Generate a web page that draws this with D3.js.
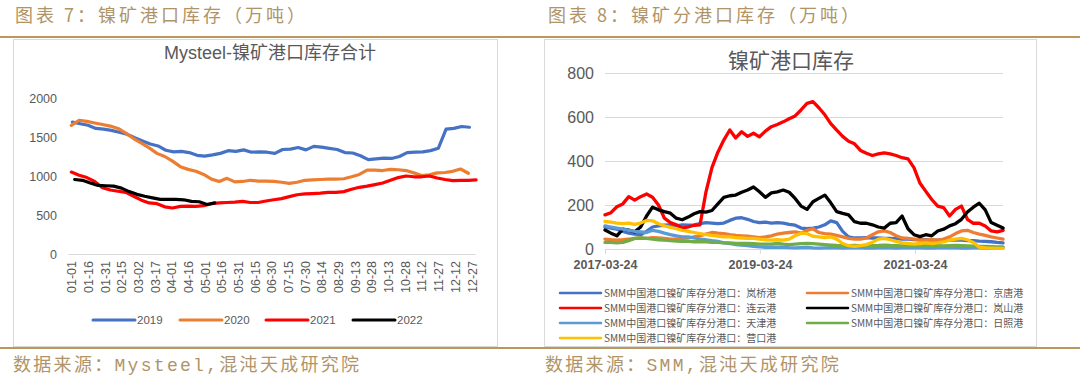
<!DOCTYPE html>
<html><head><meta charset="utf-8">
<script src="https://cdn.jsdelivr.net/npm/d3@7"></script>
<style>body{margin:0;background:#fff;} svg{display:block;}</style>
</head><body>
<svg id="c" width="1080" height="381"></svg>
<script>
// ---------- LEFT CHART DATA (weekly, Mysteel total) ----------
const leftTickLabels = ["01-01","01-16","01-31","02-15","03-02","03-17","04-01","04-16","05-01","05-16","05-31","06-15","06-30","07-15","07-30","08-14","08-29","09-13","09-28","10-13","10-28","11-12","11-27","12-12","12-27"];
const leftYears = ["2019","2020","2021","2022"];
const leftFirstDay = [1, 0, 0, 3];
const total2019 = [1690,1670,1650,1610,1600,1585,1560,1535,1490,1450,1410,1385,1330,1310,1315,1300,1265,1255,1270,1290,1325,1315,1335,1305,1310,1305,1290,1340,1345,1365,1335,1380,1370,1355,1340,1300,1295,1260,1210,1220,1230,1225,1250,1300,1305,1310,1325,1355,1600,1610,1635,1625];
const total2020 = [1650,1715,1700,1680,1660,1640,1610,1550,1480,1420,1360,1290,1250,1190,1120,1085,1060,1020,960,930,970,925,930,945,935,935,930,920,905,920,945,950,955,960,960,965,990,1020,1075,1075,1070,1085,1080,1070,1040,1005,1015,1040,1045,1060,1090,1035];
const total2021 = [1050,1010,980,930,850,820,805,790,740,690,655,645,605,590,610,615,610,620,645,655,660,665,675,660,660,680,695,710,735,760,770,775,780,790,790,800,830,855,870,890,910,945,980,1000,990,990,1000,975,955,940,945,945,950];
const total2022 = [955,945,910,880,875,870,845,800,765,740,720,700,700,700,695,675,670,635,655];
const leftYTicks = [0,500,1000,1500,2000];

// ---------- RIGHT CHART DATA (every 4 weeks, SMM by port) ----------
const rightDates = ["2017-03-24","2017-04-21","2017-05-19","2017-06-16","2017-07-14","2017-08-11","2017-09-08","2017-10-06","2017-11-03","2017-12-01","2017-12-29",
"2018-01-26","2018-02-23","2018-03-23","2018-04-20","2018-05-18","2018-06-15","2018-07-13","2018-08-10","2018-09-07","2018-10-05","2018-11-02","2018-11-30","2018-12-28",
"2019-01-25","2019-02-22","2019-03-22","2019-04-19","2019-05-17","2019-06-14","2019-07-12","2019-08-09","2019-09-06","2019-10-04","2019-11-01","2019-11-29","2019-12-27",
"2020-01-24","2020-02-21","2020-03-20","2020-04-17","2020-05-15","2020-06-12","2020-07-10","2020-08-07","2020-09-04","2020-10-02","2020-10-30","2020-11-27","2020-12-25",
"2021-01-22","2021-02-19","2021-03-19","2021-04-16","2021-05-14","2021-06-11","2021-07-09","2021-08-06","2021-09-03","2021-10-01","2021-10-29","2021-11-26","2021-12-24",
"2022-01-21","2022-02-18","2022-03-18","2022-04-15","2022-05-13"];
const rightXTicks = ["2017-03-24","2019-03-24","2021-03-24"];
const rightYTicks = [0,200,400,600,800];
const lanqiao = [100,95,90,80,72,68,65,80,100,105,108,110,105,110,108,110,115,120,118,115,118,130,140,142,135,125,120,122,118,120,118,112,108,95,92,95,100,110,128,120,80,55,50,50,52,50,50,48,48,47,45,45,43,42,42,40,40,42,40,42,40,38,38,36,35,33,30,28];
const jingtang = [45,42,40,42,45,48,50,48,52,50,48,45,45,48,50,55,60,68,75,72,70,65,62,60,58,55,52,55,60,68,72,75,78,72,85,92,75,70,68,62,55,48,45,45,50,65,78,82,75,60,50,48,45,42,40,42,40,45,55,70,82,85,75,68,62,55,50,45];
const lianyun = [155,165,192,205,238,222,238,250,235,200,140,120,110,95,100,108,110,260,370,440,495,541,505,533,512,526,510,536,556,566,578,592,605,632,662,670,642,610,570,540,512,490,478,448,435,425,432,437,432,425,415,410,370,300,262,225,195,188,150,180,195,135,117,117,105,82,78,85];
const lanshan = [86,72,60,90,86,78,100,150,190,178,170,163,140,133,145,160,170,168,175,205,235,242,245,258,268,282,260,235,255,260,268,258,230,195,180,215,230,245,210,170,162,155,124,117,117,110,100,95,117,120,150,92,65,56,65,60,82,90,105,115,135,168,190,208,178,120,108,95];
const tianjin = [105,100,95,90,85,80,78,75,85,80,72,65,60,55,55,50,45,42,38,35,28,25,20,18,15,12,10,8,8,7,8,6,5,6,7,5,4,5,6,5,4,5,6,5,4,4,5,6,5,4,5,5,6,5,4,4,5,5,6,5,4,4,5,5,4,4,5,5];
const rizhao = [30,30,28,30,38,48,50,48,45,42,40,38,36,35,35,33,33,32,30,30,28,28,26,25,25,24,22,22,22,25,22,20,22,24,25,24,22,20,18,16,15,15,16,15,14,15,16,18,16,15,14,14,15,16,18,16,15,14,15,16,15,14,13,12,12,11,10,10];
const yingkou = [125,122,118,115,118,112,118,130,128,115,105,98,92,85,80,75,70,65,62,58,55,55,52,50,48,48,45,42,40,42,40,45,60,72,70,58,55,52,55,45,25,15,12,15,20,30,45,48,42,35,28,25,22,25,28,25,28,32,40,45,48,42,30,8,5,4,3,3];
const portNames = ["岚桥港","京唐港","连云港","岚山港","天津港","日照港","营口港"];
const portColors = ["#4472C4","#ED7D31","#FF0000","#000000","#5B9BD5","#70AD47","#FFC000"];

// ---------- DRAW ----------
const svg = d3.select("#c");
const tan = "#b09468", gold = "#b8985e", gray = "#595959", grid = "#d9d9d9";
const cjk = "'Noto Sans CJK SC', sans-serif";
const lat = "'Liberation Sans', 'Noto Sans CJK SC', sans-serif";

svg.append("rect").attr("width",1080).attr("height",381).attr("fill","#fff");

// headers
svg.append("text").attr("x",15).attr("y",21.5).attr("fill",tan).attr("font-family",cjk)
  .attr("font-size",18).attr("letter-spacing",3).text("图表 7：镍矿港口库存（万吨）");
svg.append("text").attr("x",548).attr("y",21.5).attr("fill",tan).attr("font-family",cjk)
  .attr("font-size",18).attr("letter-spacing",3).text("图表 8：镍矿分港口库存（万吨）");
[37, 348].forEach(y => svg.append("line").attr("x1",0).attr("x2",1080).attr("y1",y).attr("y2",y)
  .attr("stroke",gold).attr("stroke-width",2));
const srcFont = "'Liberation Mono', 'Noto Sans CJK SC', monospace";
svg.append("text").attr("x",13).attr("y",371).attr("fill",tan).attr("font-family",srcFont)
  .attr("font-size",18).attr("letter-spacing",2.3).text("数据来源：Mysteel,混沌天成研究院");
svg.append("text").attr("x",545).attr("y",371).attr("fill",tan).attr("font-family",srcFont)
  .attr("font-size",18).attr("letter-spacing",2.3).text("数据来源：SMM,混沌天成研究院");

// panels
svg.append("rect").attr("x",13.5).attr("y",39.5).attr("width",484).attr("height",307)
  .attr("fill","#fff").attr("stroke",grid);
svg.append("rect").attr("x",544.5).attr("y",39.5).attr("width",492).attr("height",307)
  .attr("fill","#fff").attr("stroke",grid);

// ===== LEFT CHART =====
const L = svg.append("g");
L.append("text").attr("x",270).attr("y",59).attr("text-anchor","middle").attr("fill",gray)
  .attr("font-family",lat).attr("font-size",18).text("Mysteel-镍矿港口库存合计");
const xL = d3.scaleLinear().domain([-3,363]).range([68,475]);
const yL = d3.scaleLinear().domain([0,2000]).range([254,98]);
const yAxL = L.append("g").attr("transform","translate(57,0)")
  .call(d3.axisLeft(yL).tickValues(leftYTicks).tickFormat(d3.format("d")).tickSize(0).tickPadding(0));
yAxL.select(".domain").remove();
yAxL.selectAll("text").attr("fill",gray).attr("font-family",lat).attr("font-size",12.5);
const xAxL = L.append("g").attr("transform","translate(0,254)")
  .call(d3.axisBottom(xL).tickValues(d3.range(0,361,15)).tickFormat((d,i)=>leftTickLabels[i]).tickSize(0));
xAxL.select(".domain").attr("stroke",grid);
xAxL.selectAll("text").attr("transform","rotate(-90)").attr("x",-7).attr("y",0).attr("dy","0.35em")
  .attr("text-anchor","end").attr("fill",gray).attr("font-family",lat).attr("font-size",12.5);

const leftSeries = [total2019,total2020,total2021,total2022];
const leftColors = ["#4472C4","#ED7D31","#FF0000","#000000"];
leftSeries.forEach((s,k) => {
  const line = d3.line().x((d,i)=>xL(leftFirstDay[k]+7*i)).y(d=>yL(d));
  L.append("path").datum(s).attr("d",line).attr("fill","none").attr("stroke",leftColors[k])
    .attr("stroke-width",3.2).attr("stroke-linejoin","round").attr("stroke-linecap","round");
});
const legL = [93,180,266,353];
leftYears.forEach((yr,k) => {
  L.append("line").attr("x1",legL[k]).attr("x2",legL[k]+42).attr("y1",320).attr("y2",320)
    .attr("stroke",leftColors[k]).attr("stroke-width",3).attr("stroke-linecap","round");
  L.append("text").attr("x",legL[k]+44).attr("y",324).attr("fill",gray).attr("font-family",lat)
    .attr("font-size",11.5).text(yr);
});

// ===== RIGHT CHART =====
const R = svg.append("g");
const parse = d3.timeParse("%Y-%m-%d");
R.append("text").attr("x",791).attr("y",68).attr("text-anchor","middle").attr("fill",gray)
  .attr("font-family",cjk).attr("font-size",21).text("镍矿港口库存");
const xR = d3.scaleTime().domain([parse("2017-03-24"),parse("2021-03-24")]).range([605,915]);
const yR = d3.scaleLinear().domain([0,800]).range([249,73]);
const yAxR = R.append("g").attr("transform","translate(605,0)")
  .call(d3.axisLeft(yR).tickValues(rightYTicks).tickSize(-398).tickPadding(11));
yAxR.select(".domain").remove();
yAxR.selectAll("line").attr("stroke",grid);
yAxR.selectAll("text").attr("fill",gray).attr("font-family",lat).attr("font-size",16).attr("dy","0.36em");
const xAxR = R.append("g").attr("transform","translate(0,249)")
  .call(d3.axisBottom(xR).tickValues(rightXTicks.map(parse)).tickFormat(d3.timeFormat("%Y-%m-%d")).tickSize(5).tickPadding(6));
xAxR.select(".domain").remove();
xAxR.selectAll("line").attr("stroke",grid);
xAxR.selectAll("text").attr("fill",gray).attr("font-family",lat).attr("font-size",12.5).attr("font-weight","bold");

const rightSeries = [lanqiao,jingtang,lianyun,lanshan,tianjin,rizhao,yingkou];
const dates = rightDates.map(parse);
rightSeries.forEach((s,k) => {
  const line = d3.line().x((d,i)=>xR(dates[i])).y(d=>yR(d));
  R.append("path").datum(s).attr("d",line).attr("fill","none").attr("stroke",portColors[k])
    .attr("stroke-width",3.3).attr("stroke-linejoin","round").attr("stroke-linecap","round");
});
portNames.forEach((p,k) => {
  const col = k % 2, row = Math.floor(k/2);
  const x0 = col === 0 ? 560 : 807, y0 = 293 + row*15;
  R.append("line").attr("x1",x0).attr("x2",x0+41).attr("y1",y0).attr("y2",y0)
    .attr("stroke",portColors[k]).attr("stroke-width",2.5).attr("stroke-linecap","round");
  R.append("text").attr("x",x0+44).attr("y",y0+3.5).attr("fill",gray).attr("font-family",cjk)
    .attr("font-size",10).text("SMM中国港口镍矿库存分港口：" + p);
});
</script>
</body></html>
